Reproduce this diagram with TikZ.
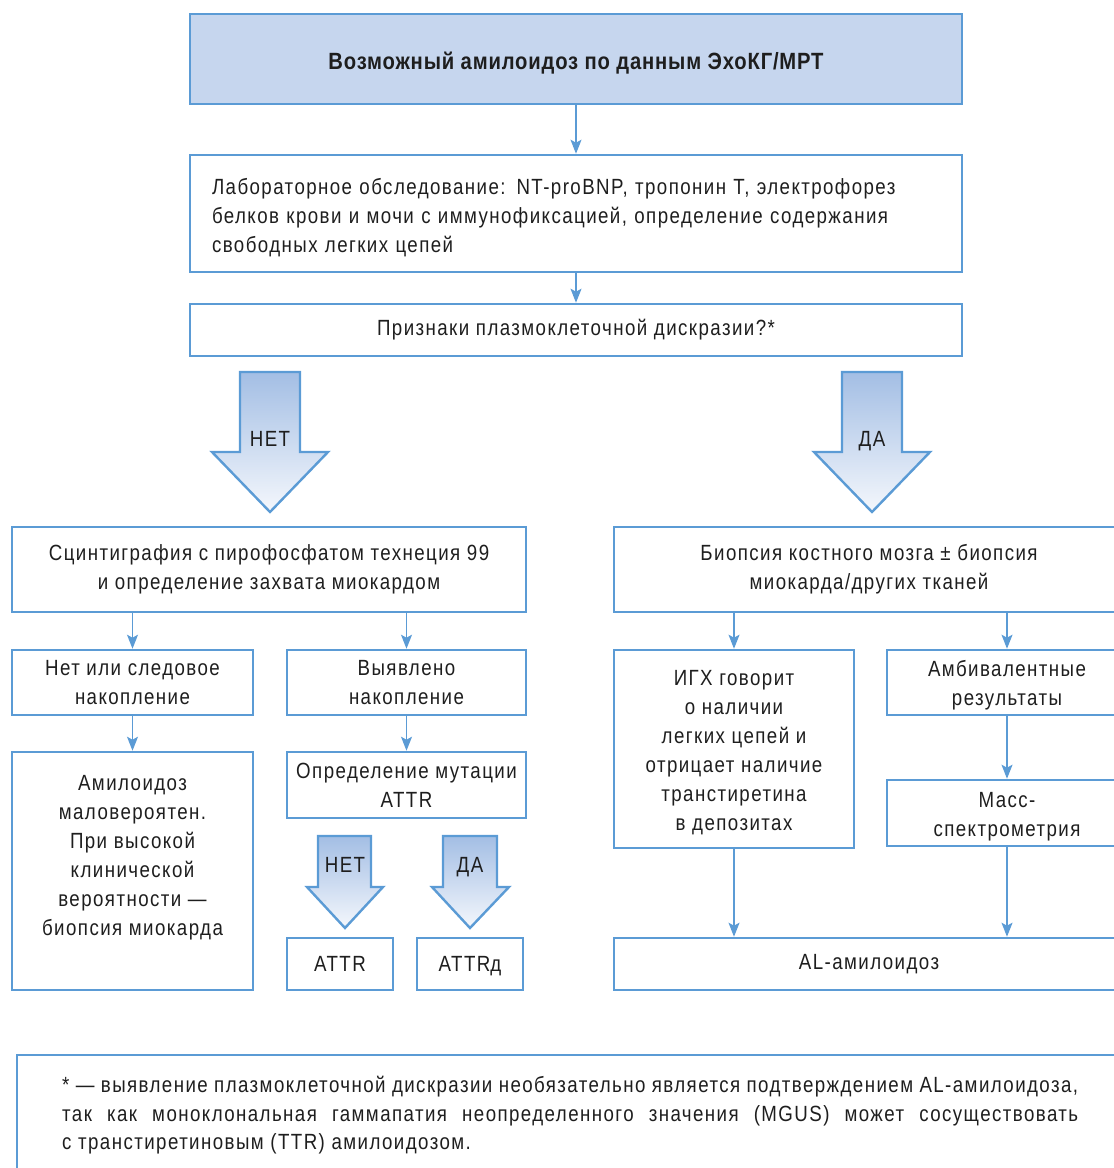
\documentclass[tikz,border=0pt]{standalone}
\usepackage{fontspec}
\setmainfont{Liberation Sans}[FakeStretch=0.85, LetterSpace=6.5]
\newfontfamily\titlefont{Liberation Sans}[FakeStretch=0.86, LetterSpace=3.5]
\usetikzlibrary{arrows.meta}
\definecolor{bblue}{HTML}{5B9BD5}
\definecolor{topfill}{HTML}{C6D6EE}
\definecolor{txt}{HTML}{1E1E1E}
\definecolor{agtop}{HTML}{A3BEE4}
\definecolor{agbot}{HTML}{F4F7FC}
\newcommand\tup[1]{\rule{0pt}{#1pt}}
\begin{document}
\begin{tikzpicture}[x=1pt,y=-1pt,
  box/.style={draw=bblue, line width=2.6pt, inner sep=0pt, text=txt,
    font=\fontsize{22}{29}\selectfont, align=center},
  txtbox/.style={inner sep=0pt, text=txt, font=\fontsize{22}{29}\selectfont, align=center},
  conn/.style={draw=bblue, line width=1.5pt, -{Stealth[length=14pt,width=11pt,inset=3pt]}},
  bigarrow/.style={draw=bblue, line width=2.4pt, top color=agtop, bottom color=agbot, line join=miter},
  lbl/.style={text=txt, font=\fontsize{22}{25}\selectfont, inner sep=0pt, anchor=base}]
\useasboundingbox (0,0) rectangle (1114,1168);
\clip (0,0) rectangle (1114,1168);

% main column
\node[box, fill=topfill, minimum width=772pt, minimum height=90pt,
  font=\fontsize{23.5}{29}\titlefont\bfseries] (top) at (576,59)
  {\tup{25}Возможный амилоидоз по данным ЭхоКГ/МРТ};
\node[box, minimum width=772pt, minimum height=117pt, text width=728pt, align=left] (lab) at (576,213.5)
  {\tup{24}Лабораторное обследование: NT-proBNP, тропонин Т, электрофорез\\
   белков крови и мочи с иммунофиксацией, определение содержания\\
   свободных легких цепей};
\node[box, minimum width=772pt, minimum height=52pt] (q) at (576,330)
  {Признаки плазмоклеточной дискразии?*};

% big arrows
\path[bigarrow] (240,372) -- (300,372) -- (300,452) -- (328,452) -- (270,512) -- (212,452) -- (240,452) -- cycle;
\node[lbl] (net1) at (270,446) {НЕТ};
\path[bigarrow] (842,372) -- (902,372) -- (902,452) -- (930,452) -- (872,512) -- (814,452) -- (842,452) -- cycle;
\node[lbl] (da1) at (872,446) {ДА};

% left branch
\node[box, minimum width=514pt, minimum height=85pt] (scint) at (269,569.5)
  {Сцинтиграфия с пирофосфатом технеция 99\\и определение захвата миокардом};
\node[box, minimum width=241pt, minimum height=65pt] (none) at (132.5,682.5)
  {Нет или следовое\\накопление};
\node[box, minimum width=239pt, minimum height=65pt] (found) at (406.5,682.5)
  {Выявлено\\накопление};
\node[box, minimum width=241pt, minimum height=238pt] (unlikely) at (132.5,871) {};
\node[txtbox] (unlikelytxt) at ([yshift=13pt]unlikely.center)
  {Амилоидоз\\маловероятен.\\При высокой\\клинической\\вероятности —\\биопсия миокарда};
\node[box, minimum width=239pt, minimum height=66pt] (mut) at (406.5,785)
  {Определение мутации\\ATTR};

\path[bigarrow] (318,836) -- (371,836) -- (371,887) -- (383,887) -- (345,928) -- (307,887) -- (318,887) -- cycle;
\node[lbl] (net2) at (345,872) {НЕТ};
\path[bigarrow] (443,836) -- (497,836) -- (497,887) -- (509,887) -- (470,928) -- (432,887) -- (443,887) -- cycle;
\node[lbl] (da2) at (470,872) {ДА};

\node[box, minimum width=106pt, minimum height=52pt] (attr) at (340,964) {ATTR};
\node[box, minimum width=106pt, minimum height=52pt] (attrd) at (470,964) {ATTR\smash{д}};

% right branch
\node[box, minimum width=510pt, minimum height=85pt] (biop) at (869,569.5)
  {Биопсия костного мозга ± биопсия\\миокарда/других тканей};
\node[box, minimum width=240pt, minimum height=198pt] (igx) at (734,749)
  {\tup{22}ИГХ говорит\\о наличии\\легких цепей и\\отрицает наличие\\транстиретина\\в депозитах};
\node[box, minimum width=240pt, minimum height=65pt] (amb) at (1007,682.5)
  {\tup{22}Амбивалентные\\результаты};
\node[box, minimum width=240pt, minimum height=66pt] (mass) at (1007,813)
  {\tup{22}Масс-\\спектрометрия};
\node[box, minimum width=510pt, minimum height=52pt] (al) at (869,964) {AL-амилоидоз};

% connectors
\draw[conn] (top.south) -- (lab.north);
\draw[conn] (lab.south) -- (q.north);
\draw[conn] (scint.south -| none.north) -- (none.north);
\draw[conn] (scint.south -| found.north) -- (found.north);
\draw[conn] (none.south) -- (unlikely.north);
\draw[conn] (found.south) -- (mut.north);
\draw[conn] (biop.south -| igx.north) -- (igx.north);
\draw[conn] (biop.south -| amb.north) -- (amb.north);
\draw[conn] (amb.south) -- (mass.north);
\draw[conn] (igx.south) -- (igx.south |- al.north);
\draw[conn] (mass.south) -- (mass.south |- al.north);

% footnote
\node[draw=bblue, line width=2.6pt, minimum width=1113pt, minimum height=125pt, inner sep=0pt] (footbox) at (573.5,1117.5) {};
\node[anchor=north west, inner sep=0pt, text=txt, align=left,
  font=\fontsize{22}{28.5}\selectfont] (foottext) at (62,1076)
  {\makebox[1016pt][s]{* — выявление плазмоклеточной дискразии необязательно является подтверждением AL-амилоидоза,}\\
   \makebox[1016pt][s]{так как моноклональная гаммапатия неопределенного значения (MGUS) может сосуществовать}\\
   с транстиретиновым (TTR) амилоидозом.};
\end{tikzpicture}
\end{document}
